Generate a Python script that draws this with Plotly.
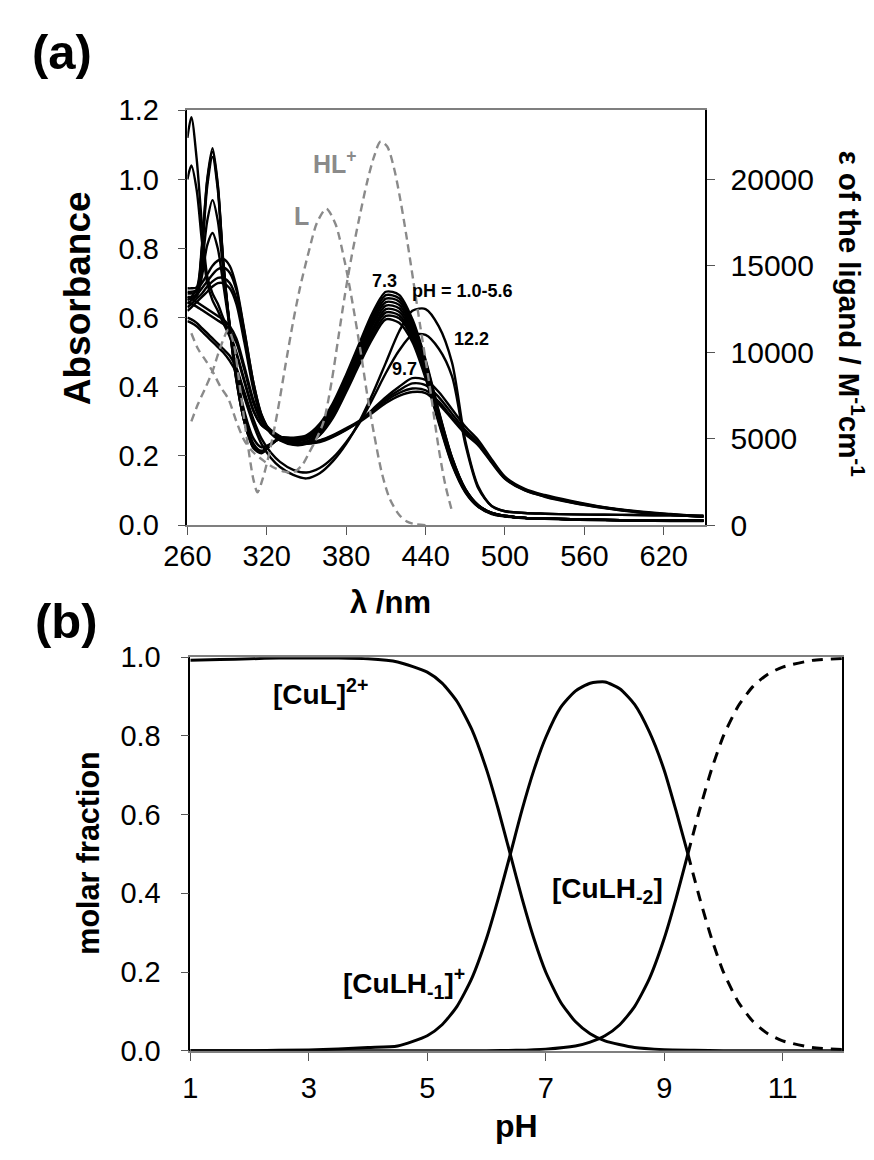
import plotly.graph_objects as go

# ---------------- (a) UV-vis titration spectra ----------------
wavelength = [260, 263, 267, 271, 275, 279, 283, 287, 292, 297, 303, 310, 316, 323, 330,
              340, 350, 360, 370, 380, 390, 400, 410, 420, 430, 440, 450, 460, 470, 480,
              490, 500, 515, 530, 550, 575, 600, 625, 650]

# pH 1.0-5.6 group and pH 7.3 (band near 413 nm)
abs_c1 = [.62, .63, .645, .66, .675, .69, .70, .70, .685, .64, .53, .39, .31, .265, .245,
          .232, .235, .26, .31, .385, .465, .54, .595, .585, .53, .425, .295, .175, .095, .052,
          .032, .025, .02, .018, .016, .014, .013, .012, .012]
abs_c2 = [.63, .64, .655, .67, .69, .705, .715, .715, .70, .655, .545, .40, .315, .268, .247,
          .234, .237, .262, .315, .39, .472, .55, .605, .598, .54, .432, .30, .178, .097, .053,
          .033, .026, .021, .019, .017, .015, .014, .013, .013]
abs_c3 = [.64, .65, .665, .685, .705, .725, .74, .745, .73, .68, .56, .41, .32, .27, .248,
          .236, .24, .266, .32, .396, .48, .56, .615, .607, .548, .44, .305, .181, .099, .054,
          .034, .026, .021, .019, .017, .015, .014, .013, .013]
abs_c4 = [.65, .66, .68, .70, .725, .75, .765, .77, .75, .69, .565, .41, .318, .268, .248,
          .237, .242, .27, .325, .402, .487, .568, .625, .617, .556, .447, .31, .184, .10, .055,
          .034, .026, .021, .019, .017, .015, .014, .013, .013]
abs_c5 = [.655, .655, .662, .72, .81, .845, .80, .70, .57, .44, .33, .25, .225, .235, .25,
          .243, .248, .276, .332, .41, .495, .578, .635, .627, .564, .453, .314, .187, .101, .055,
          .034, .026, .021, .019, .017, .015, .014, .013, .013]
abs_c6 = [.66, .66, .667, .75, .88, .94, .88, .74, .58, .44, .32, .235, .215, .233, .25,
          .245, .25, .28, .337, .416, .502, .587, .645, .637, .572, .46, .318, .19, .102, .056,
          .035, .026, .021, .019, .017, .015, .014, .013, .013]
abs_c7 = [.67, .67, .675, .79, .98, 1.065, .97, .76, .57, .42, .30, .225, .21, .232, .25,
          .248, .253, .284, .342, .422, .51, .596, .655, .647, .58, .466, .322, .192, .103, .056,
          .035, .027, .021, .019, .017, .015, .014, .013, .013]
abs_c8 = [.675, .675, .68, .80, .995, 1.08, .98, .765, .57, .42, .30, .222, .208, .232, .251,
          .25, .256, .288, .347, .428, .518, .605, .665, .656, .588, .472, .326, .194, .104, .057,
          .035, .027, .021, .019, .017, .015, .014, .013, .013]
abs_ph73 = [.685, .685, .688, .81, 1.00, 1.09, .985, .77, .575, .425, .30, .225, .21, .234, .253,
            .253, .26, .293, .353, .435, .526, .615, .675, .666, .596, .478, .33, .196, .105, .057,
            .035, .027, .021, .019, .017, .015, .014, .013, .013]

# pH ~9.7 group (broad band near 433 nm with a long tail)
abs_w1 = [1.12, 1.18, 1.06, .87, .72, .67, .64, .60, .555, .50, .42, .33, .29, .27, .255,
          .24, .235, .24, .255, .275, .30, .335, .37, .40, .425, .42, .385, .335, .285, .245,
          .19, .14, .105, .087, .07, .052, .04, .032, .025]
abs_w2 = [1.00, 1.04, .97, .82, .70, .65, .62, .585, .545, .495, .415, .33, .29, .27, .255,
          .24, .236, .242, .257, .277, .30, .332, .365, .39, .41, .405, .37, .322, .275, .238,
          .185, .137, .103, .085, .068, .051, .039, .031, .025]
abs_w3 = [.66, .655, .645, .635, .625, .615, .605, .595, .575, .54, .46, .36, .305, .275, .257,
          .242, .238, .245, .26, .28, .302, .33, .36, .382, .395, .39, .357, .312, .268, .233,
          .182, .135, .101, .083, .066, .05, .038, .03, .024]
abs_w4 = [.645, .64, .632, .622, .612, .602, .592, .582, .562, .528, .45, .352, .30, .272, .255,
          .241, .237, .244, .258, .278, .298, .325, .353, .374, .385, .382, .35, .307, .264, .23,
          .18, .134, .10, .082, .065, .049, .037, .03, .024]

# pH ~12.2 group (band near 436 nm, deep minimum near 348 nm)
abs_s1 = [.59, .585, .575, .56, .545, .53, .515, .50, .475, .44, .37, .29, .235, .195, .168,
          .145, .135, .15, .185, .235, .30, .38, .47, .56, .62, .625, .575, .47, .245, .11,
          .055, .04, .035, .033, .031, .03, .029, .028, .027]
abs_s2 = [.60, .595, .585, .57, .555, .54, .525, .51, .49, .455, .385, .305, .25, .21, .183,
          .16, .152, .165, .195, .24, .295, .365, .44, .505, .55, .55, .51, .43, .235, .105,
          .055, .04, .035, .033, .031, .03, .029, .028, .027]

spectra = [abs_c1, abs_c2, abs_c3, abs_c4, abs_c5, abs_c6, abs_c7, abs_c8, abs_ph73,
           abs_w1, abs_w2, abs_w3, abs_w4, abs_s1, abs_s2]

# Molar absorptivity of the free ligand forms (right axis)
wl_L = [263, 268, 274, 279, 285, 291, 295, 300, 305, 310, 313, 317, 322, 328, 334, 340,
        345, 352, 358, 365, 372, 379, 384, 391, 396, 401, 407, 413, 420, 426, 432, 440]
eps_L = [6000, 7000, 8000, 8900, 10300, 11300, 10500, 7800, 5000, 2600, 1900, 2700, 4200,
         6500, 9200, 11800, 13700, 15900, 17500, 18300, 17400, 15200, 13200, 10000, 7500,
         5300, 3000, 1500, 600, 200, 50, 0]
wl_HL = [263, 268, 274, 279, 285, 291, 297, 303, 310, 318, 326, 333, 340, 347, 352, 357,
         363, 369, 374, 379, 384, 390, 396, 401, 406, 411, 416, 421, 426, 431, 436, 443,
         450, 455, 460]
eps_HL = [11100, 10200, 9500, 8900, 8000, 7300, 6000, 4900, 4200, 3700, 3300, 3100, 3035,
          3500, 4200, 4900, 6000, 8300, 10800, 13300, 15500, 17800, 19900, 21300, 22200,
          21900, 20700, 18800, 16500, 14000, 11500, 8100, 4400, 2300, 800]

# ---------------- (b) species distribution ----------------
ph_cul = [1, 1.5, 2, 2.5, 3, 3.5, 4, 4.5, 5, 5.25, 5.5, 5.75, 6, 6.2, 6.4, 6.6, 6.8, 7,
          7.25, 7.5, 7.75, 8, 8.5, 9, 9.5, 10, 11, 12]
frac_cul = [0.992, 0.994, 0.996, 0.998, 0.998, 0.998, 0.996, 0.988, 0.962, 0.934, 0.888,
            0.817, 0.715, 0.613, 0.5, 0.387, 0.285, 0.2, 0.124, 0.074, 0.043, 0.025, 0.008,
            0.0025, 0.001, 0, 0, 0]
ph_m1 = [1, 2, 3, 3.5, 4, 4.5, 5, 5.25, 5.5, 5.75, 6, 6.2, 6.4, 6.6, 6.8, 7, 7.25, 7.5,
         7.75, 8, 8.25, 8.5, 8.75, 9, 9.2, 9.4]
frac_m1 = [0, 0, 0.002, 0.004, 0.008, 0.012, 0.038, 0.066, 0.112, 0.183, 0.285, 0.387,
           0.498, 0.612, 0.713, 0.796, 0.872, 0.914, 0.934, 0.937, 0.92, 0.88, 0.81, 0.713,
           0.61, 0.5]
ph_m2 = [1, 3, 5, 6, 6.5, 7, 7.5, 7.75, 8, 8.25, 8.5, 8.75, 9, 9.2, 9.4]
frac_m2 = [0, 0, 0, 0, 0.001, 0.004, 0.012, 0.022, 0.038, 0.066, 0.112, 0.183, 0.285,
           0.387, 0.5]
ph_ext = [9.4, 9.6, 9.8, 10, 10.25, 10.5, 10.75, 11, 11.5, 12]
frac_m2_ext = [0.5, 0.613, 0.715, 0.8, 0.876, 0.926, 0.957, 0.975, 0.992, 0.997]
frac_m1_ext = [0.5, 0.387, 0.285, 0.2, 0.124, 0.074, 0.043, 0.025, 0.008, 0.003]

W, H = 874, 1160
FONT = "Liberation Sans, Arial, sans-serif"


def px(x):
    return x / W


def py(y):
    return 1 - y / H


fig = go.Figure()

for a in spectra:
    fig.add_trace(go.Scatter(x=wavelength, y=a, mode="lines", xaxis="x", yaxis="y",
                             line=dict(color="black", width=2.4, shape="spline", smoothing=0.8),
                             showlegend=False, hoverinfo="skip"))

for wl, eps in [(wl_L, eps_L), (wl_HL, eps_HL)]:
    fig.add_trace(go.Scatter(x=wl, y=eps, mode="lines", xaxis="x", yaxis="y2",
                             line=dict(color="#8a8a8a", width=2.4, dash="8px,5px",
                                       shape="spline", smoothing=0.8),
                             showlegend=False, hoverinfo="skip"))

solid_b = dict(color="black", width=3, shape="spline", smoothing=0.6)
dash_b = dict(color="black", width=3, shape="spline", smoothing=0.6, dash="11px,8px")
for xs, ys, ln in [(ph_cul, frac_cul, solid_b), (ph_m1, frac_m1, solid_b),
                   (ph_m2, frac_m2, solid_b), (ph_ext, frac_m2_ext, dash_b),
                   (ph_ext, frac_m1_ext, dash_b)]:
    fig.add_trace(go.Scatter(x=xs, y=ys, mode="lines", xaxis="x2", yaxis="y3",
                             line=ln, showlegend=False, hoverinfo="skip"))


def tf(size):
    return dict(family=FONT, size=size, color="black")


common = dict(ticks="outside", ticklen=8, tickwidth=1, showgrid=False, zeroline=False,
              showline=True, tickcolor="#555")

fig.update_layout(
    width=W, height=H, margin=dict(l=0, r=0, t=0, b=0),
    paper_bgcolor="white", plot_bgcolor="white",
    xaxis=dict(domain=[px(168), px(700)], range=[260, 651], tickvals=list(range(260, 621, 60)),
               anchor="y", linecolor="#7f7f7f", linewidth=2, mirror=True,
               tickfont=tf(29), ticklabelstandoff=-4, **common),
    yaxis=dict(domain=[py(524), py(97)], range=[0, 1.2], dtick=0.2, tickformat=".1f",
               anchor="x", linecolor="black", linewidth=1.5,
               tickfont=tf(29), ticklabelstandoff=13, **common),
    yaxis2=dict(overlaying="y", side="right", range=[0, 24000], dtick=5000, tickformat="d",
                anchor="x", linecolor="black", linewidth=1.5,
                tickfont=tf(30), ticklabelstandoff=10, **common),
    xaxis2=dict(domain=[px(171), px(841)], range=[1, 12], tickvals=[1, 3, 5, 7, 9, 11],
                anchor="y3", linecolor="#7f7f7f", linewidth=2, mirror=True,
                tickfont=tf(29), ticklabelstandoff=2, **common),
    yaxis3=dict(domain=[py(1065), py(660)], range=[0, 1.0], dtick=0.2, tickformat=".1f",
                anchor="x2", linecolor="black", linewidth=1.5, mirror=True,
                tickfont=tf(29), ticklabelstandoff=14, **common),
)


def label(text, x, y, size, color="black", angle=0, xanchor="center"):
    fig.add_annotation(text=text, x=px(x), y=py(y), xref="paper", yref="paper",
                       showarrow=False, xanchor=xanchor, yanchor="middle", textangle=angle,
                       font=dict(family=FONT, size=size, color=color))


label("<b>(a)</b>", 39, 37, 49)
label("<b>(b)</b>", 44, 623, 49)
label("<b>Absorbance</b>", 55, 290, 37, angle=-90)
label("<b>ε of the ligand / M<sup>-1</sup>cm<sup>-1</sup></b>", 851, 306, 29.5, angle=90)
label("<b>λ /nm</b>", 377, 604, 31)
label("<b>molar fraction</b>", 66, 862, 30.5, angle=-90)
label("<b>pH</b>", 506, 1143, 32)

label("<b>HL<sup>+</sup></b>", 320, 150, 25, color="#8a8a8a")
label("<b>L</b>", 285, 206, 25, color="#8a8a8a")
label("<b>7.3</b>", 371, 273, 18)
label("<b>pH = 1.0-5.6</b>", 451, 283, 18)
label("<b>12.2</b>", 460, 332, 18)
label("<b>9.7</b>", 391, 363, 18)

label("<b>[CuL]<sup>2+</sup></b>", 305, 696, 28)
label("<b>[CuLH<sub>-1</sub>]<sup>+</sup></b>", 456, 995, 28, xanchor="right")
label("<b>[CuLH<sub>-2</sub>]</b>", 600, 900, 28)

fig.write_html("out.html")
